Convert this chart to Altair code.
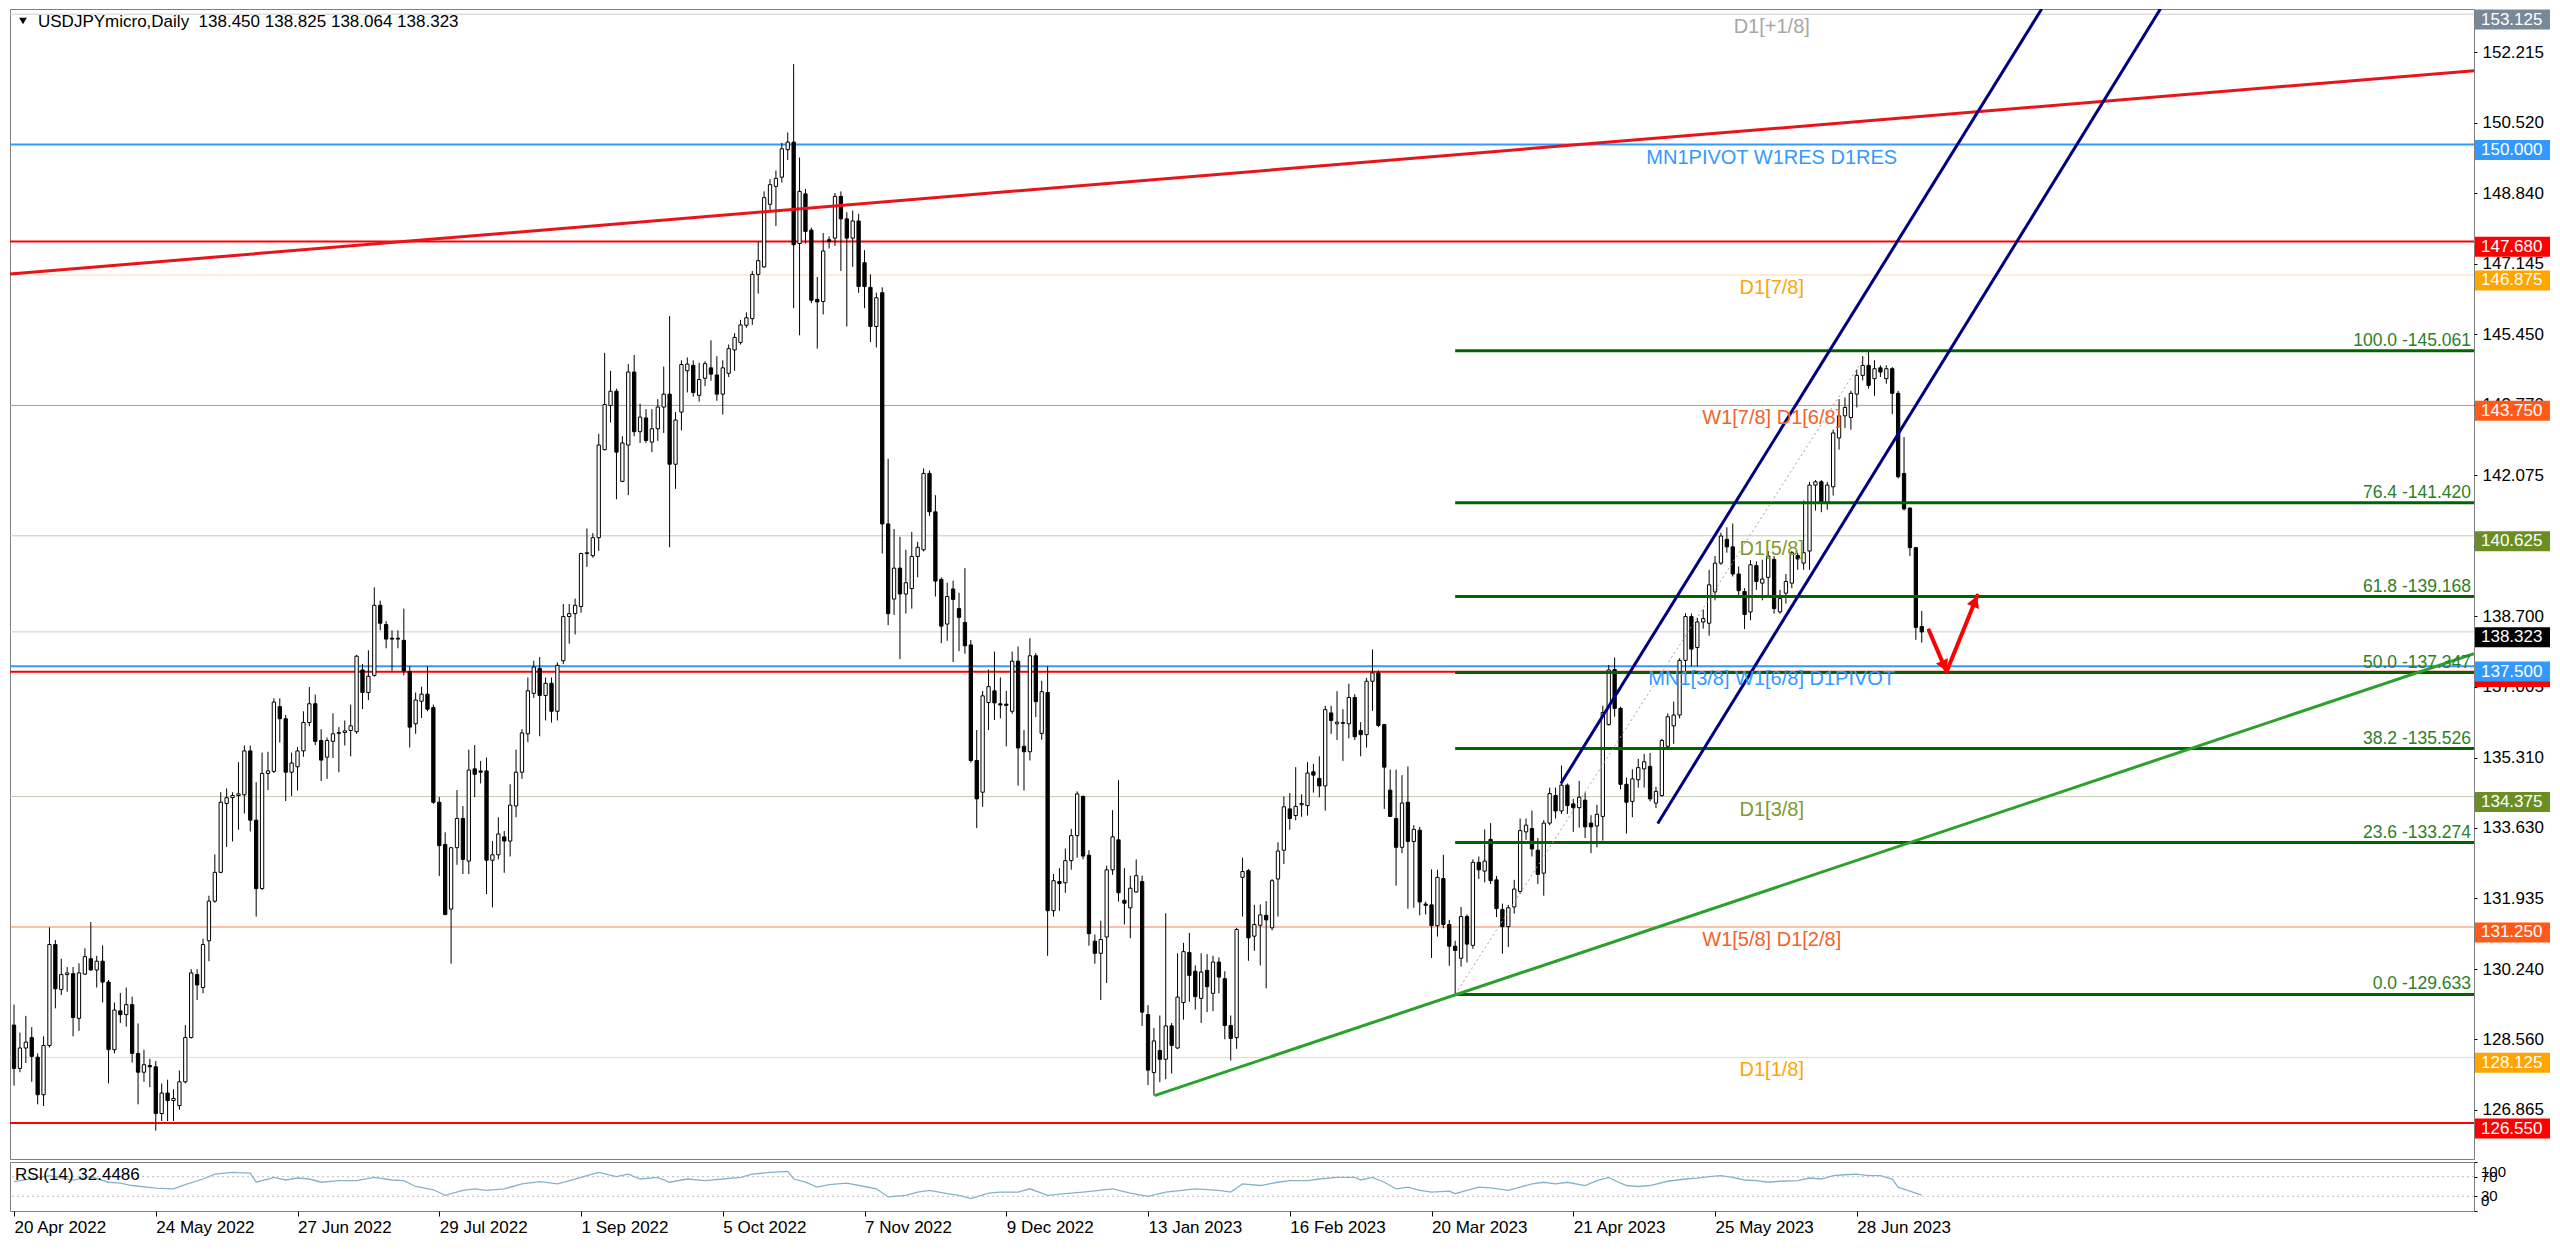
import json
import math
import altair as alt
import pandas as pd

FONT = "Liberation Sans, Arial, sans-serif"

# ---------------- data ----------------
opens = [
128.90,127.86,128.35,128.60,128.13,127.23,128.41,130.83,129.75,130.11,
130.13,129.06,130.12,130.49,130.22,130.43,129.93,128.31,129.24,129.15,
129.39,128.22,127.77,127.93,127.90,126.78,127.27,127.09,126.97,127.54,
128.60,130.11,129.80,130.92,131.87,132.56,134.21,134.35,134.40,134.42,
135.47,133.81,132.17,134.93,134.98,136.53,136.24,134.96,135.09,135.47,
136.15,136.60,135.72,135.32,135.70,135.89,135.91,135.96,135.93,137.41,
136.87,137.28,138.96,138.50,138.17,138.17,138.12,137.37,136.12,136.66,
136.83,136.51,134.24,133.23,131.68,133.15,133.85,132.83,135.04,134.99,
134.99,132.85,132.98,133.41,133.31,134.15,134.96,135.88,136.85,137.45,
136.80,137.09,136.42,137.63,138.69,138.76,138.93,140.20,140.15,140.58,
142.69,143.75,144.09,141.93,142.80,144.55,143.12,143.45,142.87,143.19,
143.71,144.02,142.34,143.59,144.58,144.71,143.99,144.40,144.65,144.48,
144.02,144.52,145.08,145.26,145.67,145.83,146.89,147.07,148.57,149.00,
149.22,149.88,150.06,147.63,148.82,147.95,146.29,146.24,147.72,147.76,
148.76,148.22,147.76,148.17,147.17,146.58,145.64,146.45,140.91,139.11,
139.85,139.23,139.36,140.13,140.29,142.12,141.20,139.58,138.51,139.35,
138.88,138.55,138.01,135.24,134.48,136.63,136.91,136.60,136.59,136.42,
137.62,135.58,135.45,137.75,135.89,136.87,131.64,132.34,132.31,132.84,
133.44,134.38,132.97,130.91,130.62,131.01,132.62,133.34,131.89,131.71,
132.09,132.34,129.15,127.76,128.29,128.08,128.88,128.35,129.44,130.64,
130.19,129.54,130.21,129.66,130.41,130.01,128.89,128.60,132.44,132.60,
131.03,131.29,131.53,131.23,132.40,133.09,134.08,133.92,134.18,134.16,
134.97,134.81,134.63,136.38,136.12,136.13,136.12,136.75,135.96,135.86,
137.14,137.34,136.10,134.53,133.85,133.16,134.24,133.30,133.57,131.80,
131.78,131.28,132.41,131.31,130.79,130.50,131.50,130.81,132.80,132.59,
133.35,132.38,131.67,131.26,131.73,132.10,133.53,133.61,133.09,132.54,
133.74,134.40,134.03,134.65,134.20,134.11,134.29,133.74,133.67,133.90,
136.10,137.42,136.49,134.67,134.26,134.78,135.04,135.10,134.22,134.40,
135.58,136.07,136.33,137.64,138.69,137.95,138.56,138.53,139.28,139.97,
140.54,140.36,139.71,139.29,138.80,139.91,139.49,139.63,140.06,138.80,
139.25,139.49,140.15,139.97,140.26,141.84,141.92,141.43,141.80,142.97,
143.50,143.46,144.02,144.47,144.71,144.39,144.65,144.39,144.63,144.04,
142.12,141.29,140.34,138.450]

highs = [
129.39,128.72,129.12,128.85,128.22,128.63,131.24,130.94,130.49,130.29,
130.29,130.38,130.74,131.37,130.56,130.81,129.98,129.44,129.67,129.80,
129.58,128.94,128.31,128.09,128.04,127.50,127.59,127.36,127.81,128.90,
130.24,130.24,130.97,132.00,132.99,134.48,134.57,134.48,135.20,135.60,
135.60,134.72,135.43,135.45,136.73,136.73,136.33,135.43,135.56,136.42,
137.00,136.82,135.99,135.79,136.37,136.04,136.20,136.58,137.77,137.55,
137.88,139.39,139.07,138.58,138.36,138.36,138.88,137.50,136.87,137.01,
137.50,136.58,134.37,133.52,133.17,134.53,134.15,135.50,135.61,135.23,
135.31,133.31,133.88,133.55,134.67,135.50,135.99,137.23,137.63,137.72,
137.23,137.23,137.59,138.99,138.99,139.12,140.22,140.80,140.69,143.07,
145.01,144.58,144.15,143.01,144.74,144.96,143.79,143.66,143.66,143.90,
144.68,145.89,143.59,144.83,144.90,144.83,144.77,144.81,145.31,144.93,
144.83,145.21,145.48,145.80,145.98,146.97,147.67,148.88,149.17,149.38,
150.04,150.29,151.93,149.69,148.94,148.01,146.83,147.88,147.80,148.84,
148.88,148.38,148.42,148.34,147.47,146.89,146.45,146.58,142.47,140.79,
140.60,140.29,140.72,140.48,142.24,142.19,141.60,139.63,139.50,139.55,
139.26,139.85,138.13,135.97,136.91,137.42,137.85,137.23,136.91,137.85,
137.97,135.97,138.17,137.81,137.15,137.50,132.52,132.66,133.13,133.60,
134.50,134.40,133.09,131.07,131.40,132.72,134.05,134.77,132.66,132.48,
132.87,132.48,129.38,128.83,129.13,131.58,128.95,130.62,130.87,131.11,
130.33,130.62,130.60,130.56,130.52,130.19,129.13,131.23,132.91,132.64,
131.78,131.79,131.87,132.40,133.28,134.38,134.46,135.08,134.43,135.20,
135.16,135.34,136.55,136.55,136.90,136.47,137.08,136.83,136.16,137.22,
137.90,137.40,136.12,135.02,135.02,134.89,135.10,133.69,133.65,131.86,
132.63,132.62,132.98,131.42,130.92,131.73,131.55,132.87,132.94,133.59,
133.74,132.47,131.81,131.78,132.38,133.85,133.85,134.04,133.38,133.81,
134.59,134.59,135.12,134.69,134.32,134.75,134.47,133.93,134.18,136.55,
137.53,137.71,136.53,134.83,135.03,135.28,135.40,135.42,134.61,135.76,
136.37,136.65,137.69,138.77,138.76,138.66,138.86,139.81,140.14,140.70,
140.83,140.92,139.89,139.37,140.04,140.01,140.05,140.26,140.14,139.33,
139.71,140.26,140.22,141.47,141.92,141.96,141.96,141.92,143.17,143.90,
143.94,144.10,144.61,144.93,145.06,144.83,144.71,144.71,144.67,144.10,
142.99,141.31,140.36,138.825]

lows = [
127.45,127.77,127.99,127.54,127.00,126.96,128.36,129.30,129.62,129.70,
128.63,128.76,130.10,130.20,129.80,129.44,127.50,128.22,128.95,128.86,
128.00,127.00,127.54,127.41,126.37,126.60,126.60,126.60,126.87,127.50,
128.58,129.50,129.66,130.43,131.83,132.54,133.17,133.30,133.58,133.97,
133.54,131.50,132.14,134.53,134.94,135.67,134.27,134.39,134.52,135.33,
136.06,135.61,134.75,134.80,135.30,134.96,135.60,135.34,135.88,136.47,
136.69,137.25,138.36,137.93,137.39,137.93,137.28,135.55,135.88,136.26,
136.42,134.20,132.47,131.53,130.37,132.74,132.52,132.52,134.36,134.69,
132.04,131.72,132.87,132.55,132.94,133.88,134.80,135.68,136.74,135.82,
136.20,136.15,136.20,137.55,138.04,138.26,138.78,139.88,140.10,140.26,
142.67,143.34,141.50,141.91,141.60,143.01,142.85,142.85,142.63,142.90,
143.09,140.35,141.75,143.15,144.06,143.96,143.84,144.21,144.34,143.86,
143.53,144.43,144.58,145.21,145.61,145.68,146.43,147.05,148.42,148.05,
149.09,149.63,146.08,145.43,147.63,146.20,145.11,145.93,147.51,147.57,
146.97,145.64,147.07,146.45,146.08,145.27,145.14,140.20,138.48,138.73,
137.67,138.76,138.88,139.63,140.25,141.10,139.17,138.05,138.11,137.60,
137.86,137.80,135.19,133.62,134.13,135.97,136.21,136.25,135.58,136.36,
134.64,134.52,135.24,136.28,135.74,130.56,131.50,131.64,132.07,132.62,
132.91,132.87,130.80,130.37,129.50,129.91,132.50,131.86,131.31,130.98,
132.07,128.88,127.46,127.21,127.53,127.60,127.74,128.33,129.03,129.46,
129.27,128.95,129.21,129.23,129.66,128.56,128.05,128.33,131.50,130.44,
130.68,130.33,129.78,131.17,131.50,132.76,133.58,133.81,133.89,133.92,
134.47,134.36,134.04,135.88,135.73,135.23,135.77,135.73,135.34,135.55,
136.43,136.04,134.08,133.89,132.24,133.02,131.69,131.71,131.53,131.55,
130.51,131.02,131.22,130.32,129.64,130.30,130.40,130.73,132.40,132.32,
132.28,131.49,130.61,130.77,131.57,132.04,133.34,132.94,132.28,132.00,
133.69,133.85,133.96,133.96,133.53,133.63,133.38,133.02,133.16,133.32,
136.08,136.29,134.55,133.49,133.88,134.59,134.59,134.26,134.10,134.37,
135.50,135.64,136.25,137.38,137.50,137.50,138.40,138.23,139.08,139.93,
140.22,139.65,139.20,138.39,138.60,139.33,139.08,139.17,138.76,138.76,
139.00,139.37,139.81,139.81,139.81,141.23,141.19,141.25,141.59,142.69,
143.21,143.17,143.70,144.35,144.15,143.98,144.43,144.27,143.54,142.00,
141.23,140.14,138.13,138.064]

closes = [
127.86,128.35,128.49,128.15,127.23,128.41,130.83,129.77,130.11,130.15,
129.08,130.15,130.54,130.22,130.43,129.93,128.31,129.26,129.15,129.39,
128.22,127.77,127.95,127.90,126.78,127.27,127.09,127.14,127.54,128.60,
130.15,129.86,130.83,131.87,132.56,134.24,134.35,134.40,134.44,135.47,
133.81,132.17,134.93,134.99,136.64,136.24,134.96,135.18,135.47,136.15,
136.60,135.70,135.25,135.72,135.88,135.91,135.95,136.07,137.74,136.87,
137.26,138.96,138.53,138.15,138.15,138.15,137.39,136.04,136.69,136.83,
136.47,134.24,133.20,131.55,133.15,133.85,132.87,135.01,134.91,134.96,
132.85,132.98,133.48,133.31,134.17,134.96,135.90,136.91,137.48,136.80,
137.09,136.42,137.52,138.69,138.76,138.96,140.20,140.22,140.58,142.80,
143.77,144.09,142.63,142.85,144.55,143.12,143.47,142.91,143.19,143.71,
144.02,142.34,143.40,144.73,144.74,144.06,144.37,144.75,144.50,144.02,
144.65,145.11,145.38,145.68,145.85,146.89,147.22,148.73,149.04,149.19,
149.90,150.06,147.60,148.88,147.92,146.27,146.23,147.45,147.68,148.76,
148.22,147.76,148.17,146.60,146.60,145.64,146.33,140.91,138.76,139.85,
139.23,139.50,140.13,140.35,142.12,141.20,139.54,138.46,139.17,139.10,
138.67,137.99,135.24,134.32,136.79,137.01,136.62,136.57,136.56,137.62,
135.54,135.45,137.75,136.65,136.89,131.64,132.36,132.29,132.84,133.44,
134.44,132.95,131.09,130.62,130.95,132.62,133.41,132.07,131.82,132.18,
132.48,129.21,127.82,128.52,128.08,128.88,128.41,129.57,130.66,130.09,
129.58,130.17,129.82,130.41,130.05,128.89,128.58,131.19,132.58,130.99,
131.31,131.54,131.42,132.36,133.07,134.13,133.85,134.14,134.21,134.94,
134.89,134.63,136.46,136.20,136.16,136.15,136.75,135.81,135.86,137.14,
137.34,136.08,135.08,133.90,133.16,134.22,133.30,133.59,131.85,131.77,
131.28,132.44,131.31,130.79,130.69,131.50,130.84,132.80,132.62,132.83,
132.36,131.69,131.26,131.71,132.16,133.56,133.69,133.12,132.51,133.74,
134.45,134.03,134.65,134.16,134.11,134.36,133.65,133.65,133.95,136.39,
137.41,136.49,134.67,134.24,134.80,135.07,135.21,134.32,134.50,135.72,
136.29,136.33,137.64,138.69,137.91,138.56,138.64,139.45,139.97,140.62,
140.36,139.71,139.31,138.74,139.93,139.53,139.59,140.14,138.88,139.12,
139.53,140.22,140.07,140.22,141.84,141.92,141.43,141.84,143.09,143.50,
143.70,144.04,144.47,144.71,144.23,144.63,144.55,144.63,144.04,142.04,
141.27,140.34,138.43,138.323]

rsi_points = [
(0,60),(6,72),(10,63),(13,70.0),(16,58.7),(18,56.7),(20,52.0),(24,46.7),(27,45.3),(29,54.0),
(32,65.3),(34,75.3),(37,78.7),(40,77.3),(41,58.7),(43,65.3),(44,68.7),(46,63.3),(48,67.3),(50,65.3),
(52,58.7),(55,62.0),(58,62.0),(61,68.7),(64,63.3),(66,62.0),(68,50.0),(71,43.3),(73,32.0),(76,42.0),
(78,45.3),(80,42.0),(83,45.3),(86,55.3),(89,60.0),(92,55.3),(95,65.3),(97,72.0),(99,78.7),(102,70.0),
(104,75.3),(106,65.3),(109,68.7),(111,58.7),(114,65.3),(117,62.0),(120,65.3),(123,68.7),(125,75.3),(128,78.7),
(131,80.7),(132,65.3),(134,58.7),(136,48.7),(138,54.0),(141,56.7),(144,50.0),(146,45.3),(148,28.7),(151,32.0),
(153,38.7),(155,42.0),(158,35.3),(160,32.0),(162,25.3),(165,36.7),(167,38.7),(170,38.7),(172,45.3),(175,32.0),
(178,35.3),(181,38.7),(186,45.3),(189,36.7),(192,30.0),(195,38.7),(200,45.3),(204,42.0),(206,38.7),(208,55.3),
(211,52.0),(214,58.7),(216,62.0),(219,62.0),(221,65.3),(224,68.7),(227,68.7),(228,63.3),(230,68.7),(232,58.7),
(234,45.3),(236,48.7),(238,42.0),(240,38.7),(243,40.7),(244,35.3),(246,42.0),(248,48.7),(250,47.3),(253,42.0),
(255,48.7),(257,55.3),(259,58.7),(261,55.3),(263,58.7),(266,52.0),(268,62.0),(270,68.7),(272,56.7),(273,52.0),
(275,50.0),(277,52.0),(280,60.7),(283,65.3),(285,67.3),(287,70.0),(289,72.0),(291,68.7),(293,63.3),(295,62.0),
(297,58.7),(299,60.7),(302,62.0),(304,67.3),(306,65.3),(308,72.0),(310,74.0),(312,75.3),(314,72.0),(316,72.0),
(318,65.3),(319,48.7),(321,40.7),(323,32.45)]

date_bars = [0, 24, 48, 72, 96, 120, 144, 168, 192, 216, 240, 264, 288, 312]
date_labels = ["20 Apr 2022", "24 May 2022", "27 Jun 2022", "29 Jul 2022", "1 Sep 2022",
               "5 Oct 2022", "7 Nov 2022", "9 Dec 2022", "13 Jan 2023", "16 Feb 2023",
               "20 Mar 2023", "21 Apr 2023", "25 May 2023", "28 Jun 2023"]

price_ticks = [126.865, 128.560, 130.240, 131.935, 133.630, 135.310, 137.005, 138.700,
               140.390, 142.075, 143.770, 145.450, 147.145, 148.840, 150.520, 152.215]

level_prices = [153.125, 150.000, 147.680, 146.875, 143.750, 140.625, 138.323,
                137.370, 137.500, 134.375, 131.250, 128.125, 126.550]
level_line_colors = ["#cfcfcf", "#3399ff", "#ff0000", "#fbd9a4", "#f08457", "#c3ccab", "#cfcfcf",
                     "#ff0000", "#3399ff", "#c3ccab", "#f08457", "#ecdc9c", "#ff0000"]
level_line_widths = [1, 2, 2, 1, 1, 1, 1, 2, 2, 1, 1, 1, 2]
level_box_colors = ["#778899", "#3399ff", "#ff0000", "#ffa500", "#ff5a1a", "#6b8e23", "#000000",
                    "#ff0000", "#3399ff", "#6b8e23", "#ff5a1a", "#ffa500", "#ff0000"]
level_box_under = [False, False, False, False, False, False, False,
                   True, False, False, False, False, False]

level_text = ["D1[+1/8]", "MN1PIVOT W1RES D1RES", "D1[7/8]", "W1[7/8] D1[6/8]", "D1[5/8]",
              "MN1[3/8] W1[6/8] D1PIVOT", "D1[3/8]", "W1[5/8] D1[2/8]", "D1[1/8]"]
level_text_prices = [153.125, 150.0, 146.875, 143.75, 140.625, 137.5, 134.375, 131.25, 128.125]
level_text_colors = ["#a6a6a6", "#3399ff", "#ffa500", "#f2622a", "#7f9a2e", "#3399ff", "#7f9a2e",
                     "#f2622a", "#ffa500"]
level_text_bar = 297.6

fib_ratios = ["100.0", "76.4", "61.8", "50.0", "38.2", "23.6", "0.0"]
fib_prices = [145.061, 141.420, 139.168, 137.347, 135.526, 133.274, 129.633]
fib_start_bar = 244
fib_diag = [(244, 129.633), (314, 145.061)]

# straight objects: (bar1, price1, bar2, price2, colour, width)
objects = [
    (-0.68, 146.90, 416.5, 151.77, "#e8141a", 3),   # red trend line
    (193.1, 127.21, 416.5, 137.80, "#2ca02c", 3),   # green trend line
    (261.9, 134.69, 343.3, 153.25, "#000080", 3),   # channel line 1
    (278.3, 133.73, 363.4, 153.25, "#000080", 3),   # channel line 2
]
arrow_pts = [(324.2, 138.36), (327.2, 137.37), (332.4, 139.19)]

header = "USDJPYmicro,Daily\u00a0 138.450 138.825 138.064 138.323"
rsi_title = "RSI(14) 32.4486"

# ---------------- layout ----------------
X_MIN, X_MAX = -0.68, 416.5
Y_MIN, Y_MAX = 125.69, 153.25
W, H, H_RSI = 2464, 1150, 49
PX_BAR = W / (X_MAX - X_MIN)
PX_YEN = H / (Y_MAX - Y_MIN)

xs = alt.Scale(domain=[X_MIN, X_MAX], nice=False, zero=False)
ys = alt.Scale(domain=[Y_MIN, Y_MAX], nice=False, zero=False)
rs = alt.Scale(domain=[0, 100], nice=False, zero=False)

ax_y = alt.Axis(orient="right", values=price_ticks, format=".3f", title=None, grid=False,
                domain=False, tickSize=3, tickColor="#000000", labelColor="#000000",
                labelFont=FONT, labelFontSize=17, labelPadding=5, labelOverlap=False)

def X(f):
    return alt.X(f, type="quantitative", scale=xs, axis=None)

def Y(f):
    return alt.Y(f, type="quantitative", scale=ys, axis=ax_y)

candles = pd.DataFrame({"i": list(range(len(opens))), "o": opens, "h": highs, "l": lows, "c": closes})
candles["fill"] = ["#ffffff" if c >= o else "#000000" for o, c in zip(opens, closes)]
candles["x1"] = candles["i"] - 0.28
candles["x2"] = candles["i"] + 0.28

lv = pd.DataFrame({"p": level_prices, "lc": level_line_colors, "lw": level_line_widths,
                   "bc": level_box_colors, "under": level_box_under})
lv["txt"] = lv["p"].map(lambda v: f"{v:.3f}")

level_rules = alt.Chart(lv).mark_rule().encode(
    y=Y("p"),
    color=alt.Color("lc:N", scale=None),
    strokeWidth=alt.StrokeWidth("lw:Q", scale=None),
)

wicks = alt.Chart(candles).mark_rule(color="#000000", strokeWidth=1).encode(
    x=X("i"), y=Y("l"), y2="h:Q")
bodies = alt.Chart(candles).mark_rect(stroke="#000000", strokeWidth=1).encode(
    x=X("x1"), x2="x2:Q", y=Y("o"), y2="c:Q", fill=alt.Fill("fill:N", scale=None))

fib = pd.DataFrame({"p": fib_prices, "r": fib_ratios})
fib["x1"] = fib_start_bar
fib["x2"] = X_MAX
fib["lab"] = fib["r"] + " -" + fib["p"].map(lambda v: f"{v:.3f}")
fib_rules = alt.Chart(fib).mark_rule(color="#006400", strokeWidth=3).encode(
    x=X("x1"), x2="x2:Q", y=Y("p"))
fib_text = alt.Chart(fib).mark_text(align="right", baseline="bottom", dx=-3, dy=-1, font=FONT,
                                    fontSize=17.5, color="#2a7f2a").encode(
    x=X("x2"), y=Y("p"), text="lab:N")

diag = pd.DataFrame({"x1": [fib_diag[0][0]], "y1": [fib_diag[0][1]],
                     "x2": [fib_diag[1][0]], "y2": [fib_diag[1][1]]})
diag_rule = alt.Chart(diag).mark_rule(color="#c49494", strokeWidth=1, strokeDash=[2, 3]).encode(
    x=X("x1"), x2="x2:Q", y=Y("y1"), y2="y2:Q")

obj = pd.DataFrame(objects, columns=["x1", "y1", "x2", "y2", "col", "w"])
obj_rules = alt.Chart(obj).mark_rule(clip=True).encode(
    x=X("x1"), x2="x2:Q", y=Y("y1"), y2="y2:Q",
    color=alt.Color("col:N", scale=None), strokeWidth=alt.StrokeWidth("w:Q", scale=None))

arr = pd.DataFrame({"x1": [arrow_pts[0][0], arrow_pts[1][0]], "y1": [arrow_pts[0][1], arrow_pts[1][1]],
                    "x2": [arrow_pts[1][0], arrow_pts[2][0]], "y2": [arrow_pts[1][1], arrow_pts[2][1]]})
heads = []
for a, b in zip(arrow_pts[:-1], arrow_pts[1:]):
    dxp = (b[0] - a[0]) * PX_BAR
    dyp = (b[1] - a[1]) * PX_YEN
    L = math.hypot(dxp, dyp)
    back = 6.0 / L
    heads.append({"hx": b[0] - (b[0] - a[0]) * back, "hy": b[1] - (b[1] - a[1]) * back,
                  "ang": (math.degrees(math.atan2(dxp, dyp)) + 360) % 360})
heads = pd.DataFrame(heads)
arrow_rules = alt.Chart(arr).mark_rule(color="#ff0000", strokeWidth=4, strokeCap="round").encode(
    x=X("x1"), x2="x2:Q", y=Y("y1"), y2="y2:Q")
arrow_heads = alt.Chart(heads).mark_point(shape="triangle-up", filled=True, color="#ff0000",
                                          size=170, opacity=1).encode(
    x=X("hx"), y=Y("hy"), angle=alt.Angle("ang:Q", scale=None))

lt = pd.DataFrame({"p": level_text_prices, "t": level_text, "col": level_text_colors})
lt["x"] = level_text_bar
level_texts = alt.Chart(lt).mark_text(align="center", baseline="top", dy=3, font=FONT,
                                      fontSize=20).encode(
    x=X("x"), y=Y("p"), text="t:N", color=alt.Color("col:N", scale=None))

BOX_OFF = 5.4
def boxes(df, with_text=True):
    rect = alt.Chart(df).mark_rect(yOffset=BOX_OFF - 10, y2Offset=BOX_OFF + 10).encode(
        x=alt.value(W + 1), x2=alt.value(W + 76), y=Y("p"), y2="p:Q",
        color=alt.Color("bc:N", scale=None))
    if not with_text:
        return [rect]
    txt = alt.Chart(df).mark_text(align="left", baseline="middle", dy=BOX_OFF, font=FONT,
                                  fontSize=17, color="#ffffff").encode(
        x=alt.value(W + 7), y=Y("p"), text="txt:N")
    return [rect, txt]

# the red box that sits almost completely behind the blue 137.500 box
box_layers = boxes(lv[lv["under"]], with_text=False) + boxes(lv[~lv["under"]])

head_df = pd.DataFrame({"t": [header]})
head_text = alt.Chart(head_df).mark_text(align="left", baseline="middle", font=FONT, fontSize=17,
                                         color="#000000").encode(
    x=alt.value(28), y=alt.value(13), text="t:N")
head_tri = alt.Chart(head_df).mark_point(shape="triangle-down", filled=True, color="#000000",
                                         size=60, opacity=1).encode(x=alt.value(13), y=alt.value(12))

main = alt.layer(
    level_rules, wicks, bodies, fib_rules, diag_rule, obj_rules, arrow_rules, arrow_heads,
    level_texts, fib_text, *box_layers, head_text, head_tri,
).properties(width=W, height=H)

# ---------------- RSI panel ----------------
rsi_df = pd.DataFrame(rsi_points, columns=["bar", "rsi"])
label_expr = f"{json.dumps(date_labels)}[indexof({json.dumps(date_bars)}, datum.value)]"
ax_x = alt.Axis(values=date_bars, labelExpr=label_expr, title=None, grid=False, domain=False,
                tickSize=5, tickColor="#000000", labelAlign="left", labelBaseline="top",
                labelPadding=3, labelFont=FONT, labelFontSize=17, labelColor="#000000",
                labelFlush=False, labelOverlap=False)
ax_r = alt.Axis(orient="right", values=[0, 30, 70, 100], labels=False, tickSize=3,
                tickColor="#000000", domain=False, grid=False, title=None)

def RY(f):
    return alt.Y(f, type="quantitative", scale=rs, axis=ax_r)

rsi_line = alt.Chart(rsi_df).mark_line(color="#84b3c9", strokeWidth=1.3).encode(
    x=alt.X("bar:Q", scale=xs, axis=ax_x), y=RY("rsi"))
rsi_lv = alt.Chart(pd.DataFrame({"v": [70, 30]})).mark_rule(
    color="#bdbdbd", strokeWidth=1, strokeDash=[2, 3]).encode(y=RY("v"))

rsi_layers = [rsi_lv, rsi_line]
for v, base, dy in [(100, "top", 3), (70, "middle", 0), (30, "middle", 0), (0, "bottom", -2)]:
    rsi_layers.append(
        alt.Chart(pd.DataFrame({"v": [v], "t": [str(v)]})).mark_text(
            align="left", baseline=base, dy=dy, font=FONT, fontSize=15, color="#000000").encode(
            x=alt.value(W + 7), y=RY("v"), text="t:N"))
rsi_layers.append(
    alt.Chart(pd.DataFrame({"t": [rsi_title]})).mark_text(
        align="left", baseline="middle", font=FONT, fontSize=17, color="#000000").encode(
        x=alt.value(5), y=alt.value(13), text="t:N"))

rsi = alt.layer(*rsi_layers).properties(width=W, height=H_RSI)

chart = alt.vconcat(main, rsi, spacing=3, bounds="flush").properties(
    padding=0, background="#ffffff"
).configure_view(stroke="#7f7f7f", strokeWidth=1)

chart.save("out.html", embed_options={"renderer": "svg", "actions": False})
